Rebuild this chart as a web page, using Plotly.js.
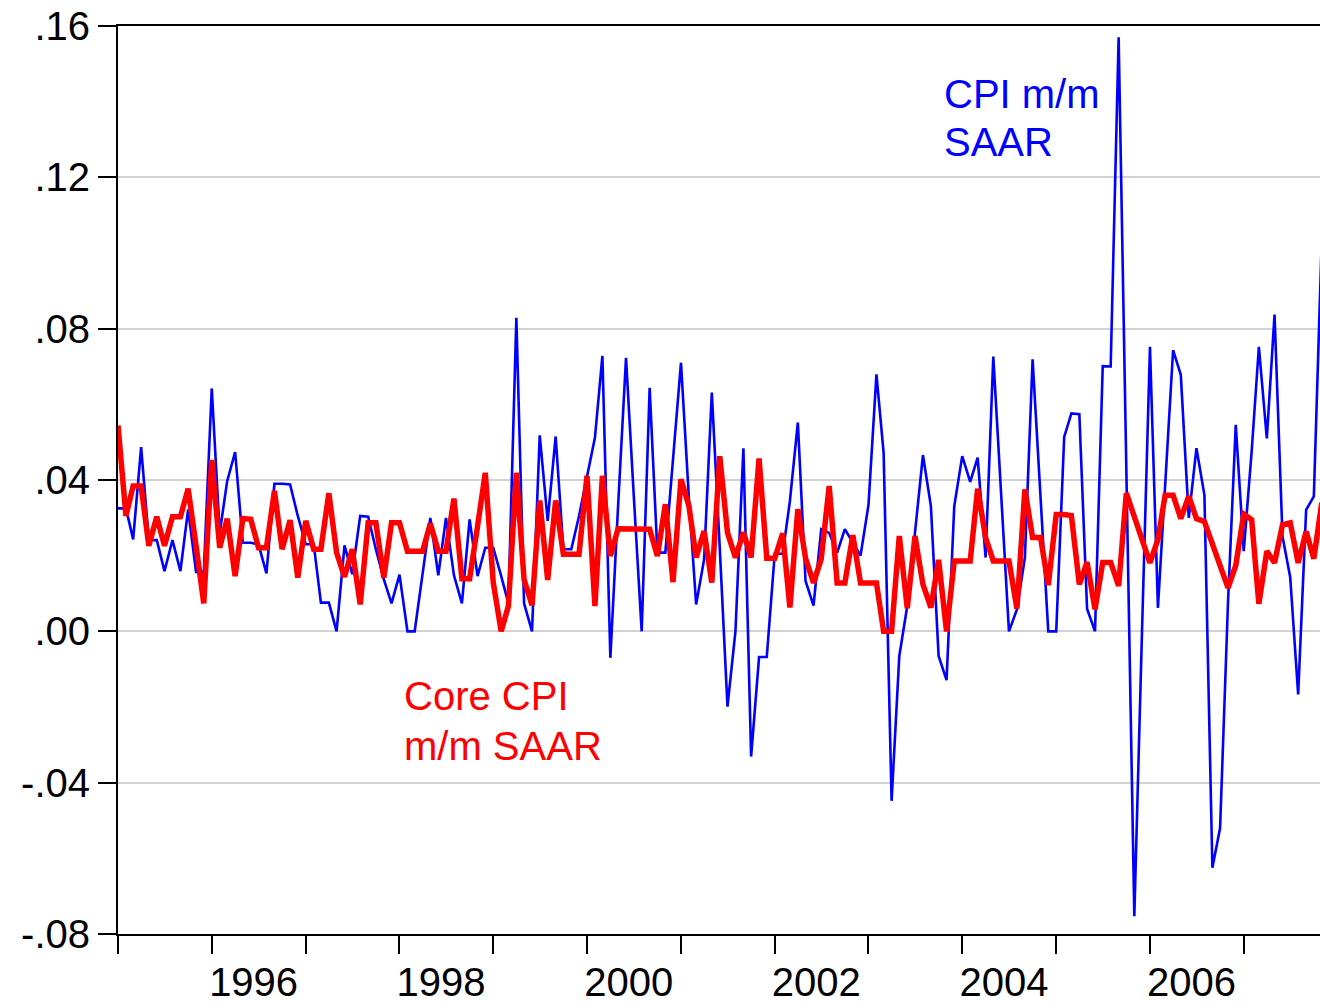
<!DOCTYPE html>
<html>
<head>
<meta charset="utf-8">
<script src="https://cdn.plot.ly/plotly-3.0.1.min.js"></script>
<style>html,body{margin:0;padding:0;background:#fff;}#chart{width:1320px;height:1005px;}</style>
</head>
<body>
<div id="chart"></div>
<script>
// Monthly observations starting January 1995
const startYear = 1995;
const cpiMoM = [
0.0325,0.0325,0.0243,0.0487,0.0241,0.0241,0.0159,0.0241,0.0159,0.0322,0.0157,0.0157,
0.0642,0.026,0.0397,0.0474,0.0234,0.0234,0.023,0.0153,0.039,0.039,0.0388,0.0305,
0.023,0.023,0.0076,0.0076,0.0,0.0227,0.0151,0.0305,0.0303,0.0217,0.0137,0.0074,
0.015,0.0,0.0,0.0146,0.030,0.0148,0.030,0.0148,0.0074,0.0296,0.0146,0.0221,
0.0221,0.0146,0.0074,0.0829,0.0074,0.0,0.0518,0.0292,0.0515,0.0217,0.0217,0.0305,
0.041,0.0512,0.0728,-0.007,0.033,0.0723,0.036,0.0,0.0644,0.0208,0.0208,0.046,
0.071,0.035,0.0071,0.019,0.0631,0.022,-0.0199,0.0,0.0484,-0.0331,-0.0068,-0.0068,
0.0205,0.0205,0.0344,0.0552,0.0133,0.0068,0.027,0.026,0.0208,0.027,0.0234,0.020,
0.0334,0.0679,0.0472,-0.0448,-0.0065,0.0067,0.026,0.0466,0.0331,-0.0065,-0.0129,0.0331,
0.0463,0.0395,0.0459,0.0195,0.0726,0.036,0.0,0.0058,0.0195,0.0719,0.034,0.0,
0.0,0.0514,0.0576,0.0574,0.006,0.0,0.0701,0.070,0.157,0.04,-0.0753,0.0,
0.0752,0.0062,0.037,0.0743,0.0678,0.030,0.0484,0.036,-0.0625,-0.052,0.008,0.0546,
0.0212,0.0476,0.0752,0.051,0.0837,0.0251,0.0143,-0.0167,0.0321,0.0357,0.104
];
const coreMoM = [
0.0544,0.0305,0.0384,0.0384,0.0226,0.0303,0.0226,0.0303,0.0303,0.0377,0.0226,0.0074,
0.0453,0.0221,0.0298,0.0146,0.0298,0.0296,0.0221,0.0221,0.0371,0.0217,0.0294,0.0142,
0.0292,0.0217,0.0217,0.0365,0.0208,0.0144,0.0217,0.0071,0.0287,0.0287,0.0142,0.0287,
0.0287,0.0212,0.0212,0.0212,0.0285,0.0212,0.0212,0.0351,0.0139,0.0139,0.0278,0.0419,
0.0129,0.0,0.0067,0.0419,0.0137,0.0069,0.0346,0.0136,0.0346,0.0204,0.0204,0.0204,
0.0411,0.0067,0.0411,0.0199,0.0271,0.0271,0.0271,0.0271,0.027,0.0199,0.0336,0.013,
0.0402,0.0331,0.0195,0.0265,0.0129,0.0463,0.0261,0.0195,0.0262,0.0195,0.0457,0.0193,
0.0193,0.0259,0.0063,0.0323,0.0193,0.0128,0.0191,0.0384,0.0128,0.0128,0.0254,0.0128,
0.0128,0.0128,0.0,0.0,0.0252,0.0061,0.0252,0.0124,0.0063,0.0189,0.0,0.0186,
0.0186,0.0186,0.0377,0.0248,0.0186,0.0186,0.0186,0.006,0.0375,0.0248,0.0248,0.0122,
0.0309,0.0309,0.0306,0.0124,0.0183,0.0058,0.0182,0.0182,0.012,0.0365,0.030,0.024,
0.0181,0.0243,0.036,0.036,0.0298,0.0357,0.0298,0.029,0.0231,0.0174,0.0115,0.0174,
0.031,0.0295,0.0073,0.0212,0.0181,0.0282,0.0287,0.0181,0.0264,0.0192,0.034
];
const yTickVals = [-0.08,-0.04,0,0.04,0.08,0.12,0.16];
const yTickText = ['-.08','-.04','.00','.04','.08','.12','.16'];
const xLabelYears = [1996,1998,2000,2002,2004,2006];

function monthDate(i){
  const y = startYear + Math.floor(i/12);
  const m = (i%12)+1;
  return y + '-' + (m<10?'0':'') + m + '-01';
}
const dates = cpiMoM.map((_,i)=>monthDate(i));
const xTickVals = xLabelYears.map(y=>y+'-06-12');
const xTickText = xLabelYears.map(String);

const font = 'Arial, "Liberation Sans", sans-serif';
const fs = 40;

const traces = [
  {x: dates, y: cpiMoM, type:'scatter', mode:'lines', line:{color:'#0000FF', width:2.6}, hoverinfo:'skip'},
  {x: dates, y: coreMoM, type:'scatter', mode:'lines', line:{color:'#FF0000', width:5.5}, hoverinfo:'skip'}
];

function label(text, x, y, color){
  return {xref:'paper', yref:'paper', x:x, y:y, xanchor:'left', yanchor:'top', align:'left',
          text:text, showarrow:false, font:{family:font, size:fs, color:color}};
}

const layout = {
  width:1320, height:1005,
  margin:{l:118, r:0, t:26, b:71},
  paper_bgcolor:'#fff', plot_bgcolor:'#fff',
  showlegend:false,
  font:{family:font, color:'#000', size:fs},
  xaxis:{
    type:'date',
    range:['1995-01-01','2007-10-25'],
    tickmode:'array', tickvals:xTickVals, ticktext:xTickText,
    ticks:'outside', ticklen:12, tickcolor:'rgba(0,0,0,0)',
    tickfont:{family:font, size:fs, color:'#000'},
    showgrid:false, zeroline:false,
    showline:true, linecolor:'#000', linewidth:2, mirror:true,
    minor:{dtick:'M12', tick0:'1995-01-01', ticks:'outside', ticklen:18, tickwidth:2, tickcolor:'#000', showgrid:false}
  },
  yaxis:{
    range:[-0.08,0.16],
    tickmode:'array', tickvals:yTickVals, ticktext:yTickText,
    ticks:'outside', ticklen:18, tickwidth:2, tickcolor:'#000',
    tickfont:{family:font, size:fs, color:'#000'},
    showgrid:true, gridcolor:'#d2d2d2', gridwidth:2,
    zeroline:false,
    showline:true, linecolor:'#000', linewidth:2, mirror:false
  },
  annotations:[
    label('CPI m/m', 0.6855, 0.9515, '#0000FF'),
    label('SAAR', 0.6855, 0.8987, '#0000FF'),
    label('Core CPI', 0.2363, 0.2885, '#FF0000'),
    label('m/m SAAR', 0.2363, 0.2335, '#FF0000')
  ]
};

Plotly.newPlot('chart', traces, layout, {staticPlot:true, displayModeBar:false});
</script>
</body>
</html>
